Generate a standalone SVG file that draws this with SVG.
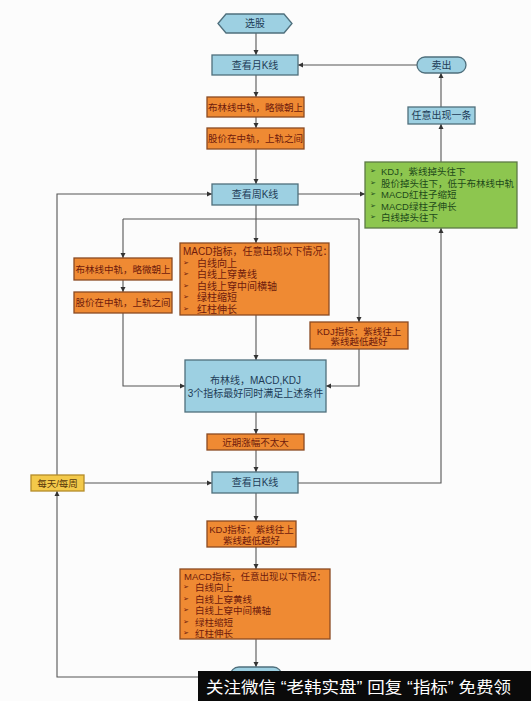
<svg xmlns="http://www.w3.org/2000/svg" width="531" height="701" viewBox="0 0 531 701">
<defs>
<marker id="ah" markerWidth="6" markerHeight="6" refX="5" refY="3" orient="auto" markerUnits="userSpaceOnUse">
<path d="M0,0.5 L5,3 L0,5.5 Z" fill="#333"/>
</marker>
<style>
.ln{fill:none;stroke:#555;stroke-width:1.1;marker-end:url(#ah)}
.ln0{fill:none;stroke:#555;stroke-width:1.1}
.blue{fill:#9dd0e2;stroke:#4f6f7c;stroke-width:1.3}
.org{fill:#ef8a33;stroke:#8a4a22;stroke-width:1.3}
.grn{fill:#8dc64f;stroke:#5d7a45;stroke-width:1.3}
.yel{fill:#f3c94a;stroke:#b48c28;stroke-width:1.3}
text{font-family:"Liberation Sans","Noto Sans CJK SC",sans-serif}
.tb{font-size:10px;fill:#1d3c57;text-anchor:middle;dominant-baseline:central}
.to{font-size:9.5px;fill:#6e1a0c;text-anchor:middle;dominant-baseline:central}
.tl{font-size:10px;fill:#6e1a0c;dominant-baseline:central}
.tg{font-size:9.5px;fill:#1e4a1a;dominant-baseline:central}
.ty{font-size:9.5px;fill:#5a3a0a;text-anchor:middle;dominant-baseline:central}
.bu{font-family:"DejaVu Sans",sans-serif;font-size:7px}
</style>
</defs>
<rect width="531" height="701" fill="#fcfcfc"/>
<g id="connectors">
<path class="ln" d="M256,33 V55"/>
<path class="ln" d="M256,75 V97"/>
<path class="ln" d="M256,117 V128"/>
<path class="ln" d="M256,149 V184"/>
<path class="ln" d="M256,205 V243"/>
<path class="ln0" d="M123,219 H359"/>
<path class="ln" d="M123,219 V258"/>
<path class="ln" d="M359,219 V322"/>
<path class="ln" d="M123,280 V292"/>
<path class="ln" d="M123,313 V386 H185"/>
<path class="ln" d="M256,315 V360"/>
<path class="ln" d="M359,349 V386 H326"/>
<path class="ln" d="M298,194 H365"/>
<path class="ln" d="M441,162 V124"/>
<path class="ln" d="M441,107 V73"/>
<path class="ln" d="M417,65 H298"/>
<path class="ln" d="M256,412 V434"/>
<path class="ln" d="M256,450 V472"/>
<path class="ln" d="M84,483 H212"/>
<path class="ln" d="M298,483 H441 V228"/>
<path class="ln" d="M256,493 V521"/>
<path class="ln" d="M256,547 V569"/>
<path class="ln" d="M256,639 V667"/>
<path class="ln" d="M232,677 H57 V491"/>
<path class="ln" d="M57,475 V194 H212"/>
</g>
<g id="n-start">
<polygon class="blue" points="218,23.5 226,14 284,14 292,23.5 284,33 226,33"/>
<text class="tb" x="255" y="23.5">选股</text>
</g>
<g id="n-month">
<rect class="blue" x="212" y="55" width="86" height="20"/>
<text class="tb" x="255" y="65">查看月K线</text>
</g>
<g id="n-m1">
<rect class="org" x="207" y="97" width="97" height="20"/>
<text class="to" x="255.5" y="107">布林线中轨，略微朝上</text>
</g>
<g id="n-m2">
<rect class="org" x="207" y="128" width="97" height="21"/>
<text class="to" x="255.5" y="138.5">股价在中轨，上轨之间</text>
</g>
<g id="n-sell">
<rect class="blue" x="417" y="57" width="49" height="16" rx="8"/>
<text class="tb" x="441.5" y="65">卖出</text>
</g>
<g id="n-any">
<rect class="blue" x="408" y="107" width="67" height="17"/>
<text class="tb" x="441.5" y="115.5">任意出现一条</text>
</g>
<g id="n-green">
<rect class="grn" x="365" y="162" width="152" height="66"/>
<text class="tg" x="370" y="171"><tspan class="bu">➢</tspan><tspan x="381">KDJ，紫线掉头往下</tspan></text>
<text class="tg" x="370" y="182.5"><tspan class="bu">➢</tspan><tspan x="381">股价掉头往下，低于布林线中轨</tspan></text>
<text class="tg" x="370" y="194"><tspan class="bu">➢</tspan><tspan x="381">MACD红柱子缩短</tspan></text>
<text class="tg" x="370" y="205.5"><tspan class="bu">➢</tspan><tspan x="381">MACD绿柱子伸长</tspan></text>
<text class="tg" x="370" y="217"><tspan class="bu">➢</tspan><tspan x="381">白线掉头往下</tspan></text>
</g>
<g id="n-week">
<rect class="blue" x="212" y="184" width="86" height="21"/>
<text class="tb" x="255" y="194.5">查看周K线</text>
</g>
<g id="n-w1">
<rect class="org" x="74" y="258" width="98" height="22"/>
<text class="to" x="123" y="269">布林线中轨，略微朝上</text>
</g>
<g id="n-w2">
<rect class="org" x="74" y="292" width="98" height="21"/>
<text class="to" x="123" y="302.5">股价在中轨，上轨之间</text>
</g>
<g id="n-wmacd">
<rect class="org" x="180" y="243" width="149" height="72"/>
<text class="tl" x="183" y="251">MACD指标，任意出现以下情况：</text>
<text class="tl" x="183" y="262.5"><tspan class="bu">➢</tspan><tspan x="197">白线向上</tspan></text>
<text class="tl" x="183" y="274"><tspan class="bu">➢</tspan><tspan x="197">白线上穿黄线</tspan></text>
<text class="tl" x="183" y="285.5"><tspan class="bu">➢</tspan><tspan x="197">白线上穿中间横轴</tspan></text>
<text class="tl" x="183" y="297"><tspan class="bu">➢</tspan><tspan x="197">绿柱缩短</tspan></text>
<text class="tl" x="183" y="308.5"><tspan class="bu">➢</tspan><tspan x="197">红柱伸长</tspan></text>
</g>
<g id="n-wkdj">
<rect class="org" x="310" y="322" width="98" height="27"/>
<text class="to" x="359" y="331">KDJ指标：紫线往上</text>
<text class="to" x="359" y="341.5">紫线越低越好</text>
</g>
<g id="n-all">
<rect class="blue" x="185" y="360" width="141" height="52"/>
<text class="tb" x="255.5" y="380.5">布林线，MACD,KDJ</text>
<text class="tb" x="255.5" y="393">3个指标最好同时满足上述条件</text>
</g>
<g id="n-recent">
<rect class="org" x="207" y="434" width="97" height="16"/>
<text class="to" x="255.5" y="442">近期涨幅不太大</text>
</g>
<g id="n-daily">
<rect class="yel" x="31" y="475" width="53" height="16"/>
<text class="ty" x="57.5" y="483">每天/每周</text>
</g>
<g id="n-day">
<rect class="blue" x="212" y="472" width="86" height="21"/>
<text class="tb" x="255" y="482.5">查看日K线</text>
</g>
<g id="n-dkdj">
<rect class="org" x="207" y="521" width="89" height="26"/>
<text class="to" x="251.5" y="529.5">KDJ指标：紫线往上</text>
<text class="to" x="251.5" y="540">紫线越低越好</text>
</g>
<g id="n-dmacd">
<rect class="org" x="180" y="569" width="150" height="70"/>
<text class="tl" x="184" y="576" style="font-size:9.5px">MACD指标，任意出现以下情况：</text>
<text class="tl" x="183" y="587" style="font-size:9.5px"><tspan class="bu">➢</tspan><tspan x="195">白线向上</tspan></text>
<text class="tl" x="183" y="598.5" style="font-size:9.5px"><tspan class="bu">➢</tspan><tspan x="195">白线上穿黄线</tspan></text>
<text class="tl" x="183" y="610" style="font-size:9.5px"><tspan class="bu">➢</tspan><tspan x="195">白线上穿中间横轴</tspan></text>
<text class="tl" x="183" y="621.5" style="font-size:9.5px"><tspan class="bu">➢</tspan><tspan x="195">绿柱缩短</tspan></text>
<text class="tl" x="183" y="633" style="font-size:9.5px"><tspan class="bu">➢</tspan><tspan x="195">红柱伸长</tspan></text>
</g>
<g id="n-end">
<rect class="blue" x="230" y="667" width="52" height="20" rx="9"/>
</g>
<g id="banner">
<rect x="198" y="671" width="333" height="30" fill="#0a0a0a"/>
<text x="206" y="693" font-size="16" fill="#ffffff" textLength="305" lengthAdjust="spacingAndGlyphs">关注微信 “老韩实盘” 回复 “指标” 免费领</text>
</g>
</svg>
